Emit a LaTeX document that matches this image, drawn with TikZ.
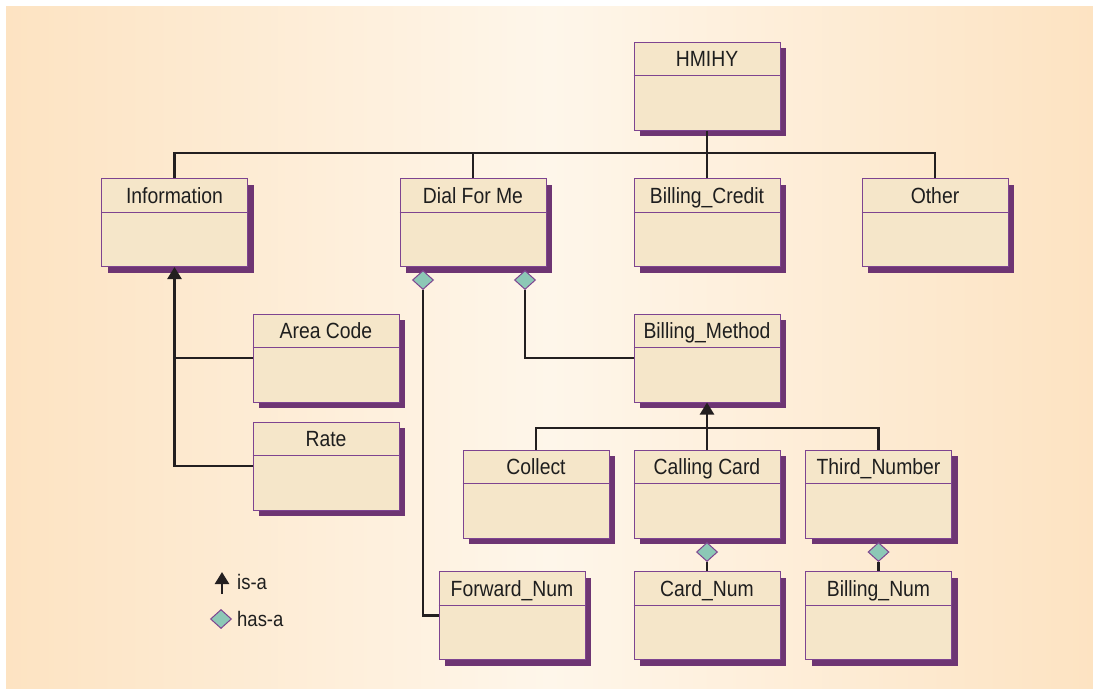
\documentclass[tikz,border=0pt]{standalone}
\usepackage{fontspec}
\setmainfont{Liberation Sans}[FakeStretch=0.88]
\usetikzlibrary{shadows,shapes.geometric,arrows.meta}
\definecolor{boxfill}{HTML}{F5E6C9}
\definecolor{boxborder}{HTML}{7E4490}
\definecolor{shadowc}{HTML}{6E3573}
\definecolor{dia}{HTML}{8CC8B6}
\definecolor{ink}{HTML}{231F20}
\definecolor{txt}{HTML}{1E1E1E}
\definecolor{bgedge}{HTML}{FDE3C2}
\definecolor{bgmid}{HTML}{FEF6EA}
\tikzset{
  cls/.style={draw=boxborder, line width=1pt, fill=boxfill, minimum width=146pt, minimum height=88pt, inner sep=0pt,
    drop shadow={shadow xshift=6pt, shadow yshift=-6pt, fill=shadowc, opacity=1}},
  ctitle/.style={font=\fontsize{22}{26}\selectfont, text=txt, inner sep=0pt, anchor=base},
  conn/.style={draw=ink, line width=2.4pt},
  isa/.style={conn, -{Triangle[length=12pt,width=14pt]}},
  hasa/.style={shape=diamond, draw=boxborder, line width=1pt, fill=dia, minimum width=21pt, minimum height=19pt, inner sep=0pt},
  legtext/.style={font=\fontsize{21}{24}\selectfont, text=txt, anchor=base west, inner sep=0pt},
}
\newcommand\umlclass[3]{%
  \node[cls] (#1) at (#2) {};
  \draw[boxborder, line width=0.8pt] ([yshift=-34pt]#1.north west) -- ([yshift=-34pt]#1.north east);
  \node[ctitle] (#1-t) at ([yshift=-25pt]#1.north) {#3};
}
\begin{document}
\begin{tikzpicture}[x=1pt,y=-1pt]
\useasboundingbox (0,0) rectangle (1093,694);
\fill[white] (0,0) rectangle (1093,694);
\shade[left color=bgedge, right color=bgedge, middle color=bgmid] (6,6) rectangle (1093,688);

\coordinate (bus1) at (0,153);
\coordinate (bus2) at (0,428);
\coordinate (lega) at (222,594);
\coordinate (legb) at (222,572);

\umlclass{hmihy}{707,86}{HMIHY}
\umlclass{info}{174.5,222.5}{Information}
\umlclass{dial}{473,222.5}{Dial For Me}
\umlclass{bcredit}{707,222.5}{Billing\_Credit}
\umlclass{other}{935,222.5}{Other}
\umlclass{area}{326,358}{Area Code}
\umlclass{rate}{326,466}{Rate}
\umlclass{bmethod}{707,358}{Billing\_Method}
\umlclass{collect}{536,494}{Collect}
\umlclass{ccard}{707,494}{Calling Card}
\umlclass{third}{878.5,494}{Third\_Number}
\umlclass{fwd}{512,615.5}{Forward\_Num}
\umlclass{cardnum}{707,615.5}{Card\_Num}
\umlclass{billnum}{878.5,615.5}{Billing\_Num}

% top bus
\draw[conn] (hmihy.south) -- (hmihy.south |- bus1);
\draw[conn] (info.north) -- (info.north |- bus1) -- (other.north |- bus1) -- (other.north);
\draw[conn] (dial.north) -- (dial.north |- bus1);
\draw[conn] (bcredit.north) -- (bcredit.north |- bus1);

% is-a: Information
\draw[conn] (area.west) -- (area.west -| info.south);
\draw[isa] (rate.west) -| (info.south);

% has-a from Dial For Me
\node[hasa] (d1) at (423,280) {};
\node[hasa] (d2) at (525,280) {};
\draw[conn] (d1.south) |- (fwd.west);
\draw[conn] (d2.south) |- (bmethod.west);

% is-a: Billing_Method
\draw[conn] (collect.north) -- (collect.north |- bus2) -- (third.north |- bus2) -- (third.north);
\draw[isa] (ccard.north) -- (bmethod.south);

% has-a lower
\node[hasa] (d3) at (707,552) {};
\node[hasa] (d4) at (878.5,552) {};
\draw[conn] (d3.south) -- (cardnum.north);
\draw[conn] (d4.south) -- (billnum.north);

% legend
\draw[isa] (lega) -- (legb);
\node[legtext] (l1) at (237,589) {is-a};
\node[hasa] (ld) at (221,619) {};
\node[legtext] (l2) at (237,626) {has-a};
\end{tikzpicture}
\end{document}
